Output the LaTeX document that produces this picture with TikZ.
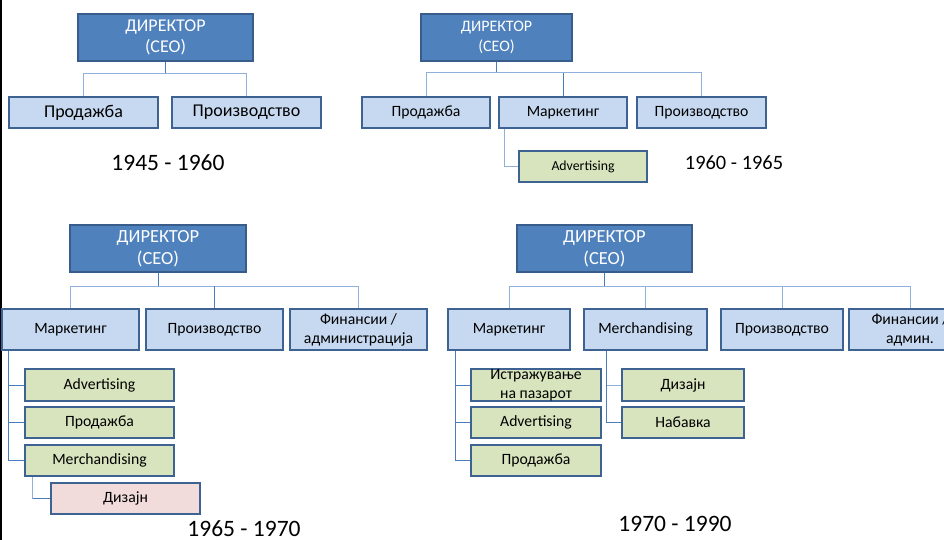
\documentclass[tikz,border=0pt]{standalone}
\usepackage{fontspec}
\setmainfont{Carlito}
\definecolor{ceofill}{HTML}{4F81BD}
\definecolor{ceoline}{HTML}{385D8A}
\definecolor{lvlfill}{HTML}{C6D9F1}
\definecolor{lvlline}{HTML}{3E6291}
\definecolor{subfill}{HTML}{D7E4BD}
\definecolor{pinkfill}{HTML}{F2DCDB}
\definecolor{linkdark}{HTML}{4A7EBB}
\definecolor{linklight}{HTML}{8EB0DA}
\newcommand\fsz[2]{\fontsize{#1}{#2}\selectfont}
\tikzset{
  box/.style={rectangle, inner sep=0pt, align=center, line width=2.4pt, draw=lvlline},
  ceo/.style={box, fill=ceofill, draw=ceoline, line width=2.8pt, text=white, minimum height=47pt},
  lvl/.style={box, fill=lvlfill},
  sub/.style={box, fill=subfill},
  pinkbox/.style={box, fill=pinkfill},
  link/.style={draw=linkdark, line width=1pt},
  linklt/.style={draw=linklight, line width=1pt},
  yearlbl/.style={inner sep=0pt}
}
\begin{document}
\begin{tikzpicture}[x=1pt,y=-1pt]
\useasboundingbox (0,0) rectangle (944,540);
\fill[white] (0,0) rectangle (944,540);
% left frame edge
\draw[black, line width=1.6pt] (0.8,0) -- (0.8,540);

% ---------- 1945 - 1960 ----------
\node[ceo, minimum width=175pt, font=\fsz{18}{21.7}] (c1) at (165.5,37.5) {ДИРЕКТОР\\(CEO)};
\node[lvl, minimum width=149pt, minimum height=31pt, font=\fsz{18}{21}] (p1a) at (83.5,112.5) {Продажба};
\node[lvl, minimum width=149pt, minimum height=31pt, font=\fsz{18}{21}] (p1b) at (246.5,112.5) {Производство};
\coordinate (b1) at (0,74);
\draw[link] (c1.south) -- (c1.south |- b1);
\draw[linklt] (p1a.north) -- (p1a.north |- b1) -- (p1b.north |- b1) -- (p1b.north);
\node[yearlbl, font=\fsz{23.5}{28}] (y1) at (168,163) {1945 - 1960};

% ---------- 1960 - 1965 ----------
\node[ceo, minimum width=151pt, font=\fsz{16}{19.5}] (c2) at (496.5,37.5) {ДИРЕКТОР\\(CEO)};
\node[lvl, minimum width=128pt, minimum height=31pt, font=\fsz{15.7}{19}] (p2a) at (426,112.5) {Продажба};
\node[lvl, minimum width=128pt, minimum height=31pt, font=\fsz{15.7}{19}] (p2b) at (563,112.5) {Маркетинг};
\node[lvl, minimum width=129pt, minimum height=31pt, font=\fsz{15.7}{19}] (p2c) at (701.5,112.5) {Производство};
\node[sub, minimum width=128pt, minimum height=31pt, font=\fsz{13.8}{17}] (a2) at (583,166.5) {Advertising};
\coordinate (b2) at (0,73);
\draw[link] (c2.south) -- (c2.south |- b2);
\draw[linklt] (p2a.north) -- (p2a.north |- b2) -- (p2c.north |- b2) -- (p2c.north);
\draw[link] (p2b.north) -- (p2b.north |- b2);
\draw[linklt] ([xshift=7pt]p2b.south west) |- (a2.west);
\node[yearlbl, font=\fsz{20.4}{24}] (y2) at (734,163) {1960 - 1965};

% ---------- 1965 - 1970 ----------
\node[ceo, minimum width=176pt, font=\fsz{18.5}{21.7}] (c3) at (158,248.5) {ДИРЕКТОР\\(CEO)};
\node[lvl, minimum width=137pt, minimum height=41pt, font=\fsz{15.7}{19}] (m3) at (70.5,329.5) {Маркетинг};
\node[lvl, minimum width=137pt, minimum height=41pt, font=\fsz{15.7}{19}] (pr3) at (214.5,329.5) {Производство};
\node[lvl, minimum width=137pt, minimum height=41pt, font=\fsz{15.7}{19}] (f3) at (358.5,329.5) {Финансии /\\администрација};
\node[sub, minimum width=149pt, minimum height=32pt, font=\fsz{15.7}{19}] (ad3) at (99.5,385) {Advertising};
\node[sub, minimum width=149pt, minimum height=31pt, font=\fsz{15.7}{19}] (pd3) at (99.5,422.5) {Продажба};
\node[sub, minimum width=149pt, minimum height=31pt, font=\fsz{15.7}{19}] (me3) at (99.5,460.5) {Merchandising};
\node[pinkbox, minimum width=149pt, minimum height=31pt, font=\fsz{15.7}{19}] (d3) at (125.5,498.5) {Дизајн};
\coordinate (b3) at (0,286);
\draw[link] (c3.south) -- (c3.south |- b3);
\draw[linklt] (m3.north) -- (m3.north |- b3) -- (f3.north |- b3) -- (f3.north);
\draw[link] (pr3.north) -- (pr3.north |- b3);
\draw[link] ([xshift=8pt]m3.south west) |- (ad3.west);
\draw[link] ([xshift=8pt]m3.south west) |- (pd3.west);
\draw[link] ([xshift=8pt]m3.south west) |- (me3.west);
\draw[linklt] ([xshift=9pt]me3.south west) -- ([xshift=9pt]me3.south west |- d3.west);
\draw[link] ([xshift=9pt]me3.south west |- d3.west) -- (d3.west);
\node[yearlbl, font=\fsz{23.5}{28}] (y3) at (244,529) {1965 - 1970};

% ---------- 1970 - 1990 ----------
\node[ceo, minimum width=175pt, font=\fsz{18.5}{21.7}] (c4) at (604.5,248.5) {ДИРЕКТОР\\(CEO)};
\node[lvl, minimum width=122pt, minimum height=41pt, font=\fsz{15.7}{19}] (m4) at (509,329.5) {Маркетинг};
\node[lvl, minimum width=123pt, minimum height=41pt, font=\fsz{15.7}{19}] (me4) at (645.5,329.5) {Merchandising};
\node[lvl, minimum width=122pt, minimum height=41pt, font=\fsz{15.7}{19}] (pr4) at (782,329.5) {Производство};
\node[lvl, minimum width=122pt, minimum height=41pt, font=\fsz{15.7}{19}] (f4) at (910,329.5) {Финансии /\\админ.};
\node[sub, minimum width=130pt, minimum height=32pt] (i4) at (536,385) {};
\node[inner sep=0pt, align=center, font=\fsz{15.7}{19}] (i4t) at (536,385.5) {Истражување\\на пазарот};
\node[sub, minimum width=130pt, minimum height=31pt, font=\fsz{15.7}{19}] (a4) at (536,422.5) {Advertising};
\node[sub, minimum width=130pt, minimum height=31pt, font=\fsz{15.7}{19}] (pd4) at (536,460.5) {Продажба};
\node[sub, minimum width=122pt, minimum height=32pt, font=\fsz{15.7}{19}] (d4) at (683,385) {Дизајн};
\node[sub, minimum width=122pt, minimum height=31pt, font=\fsz{15.7}{19}] (n4) at (683,422.5) {Набавка};
\coordinate (b4) at (0,286);
\draw[link] (c4.south) -- (c4.south |- b4);
\draw[linklt] (m4.north) -- (m4.north |- b4) -- (f4.north |- b4) -- (f4.north);
\draw[linklt] (me4.north) -- (me4.north |- b4);
\draw[linklt] (pr4.north) -- (pr4.north |- b4);
\draw[link] ([xshift=9pt]m4.south west) |- (i4.west);
\draw[link] ([xshift=9pt]m4.south west) |- (a4.west);
\draw[link] ([xshift=9pt]m4.south west) |- (pd4.west);
\draw[linklt] ([xshift=24pt]me4.south west) |- (d4.west);
\draw[link] ([xshift=24pt]me4.south west) |- (n4.west);
\node[yearlbl, font=\fsz{23.5}{28}] (y4) at (675,524) {1970 - 1990};
\end{tikzpicture}
\end{document}
